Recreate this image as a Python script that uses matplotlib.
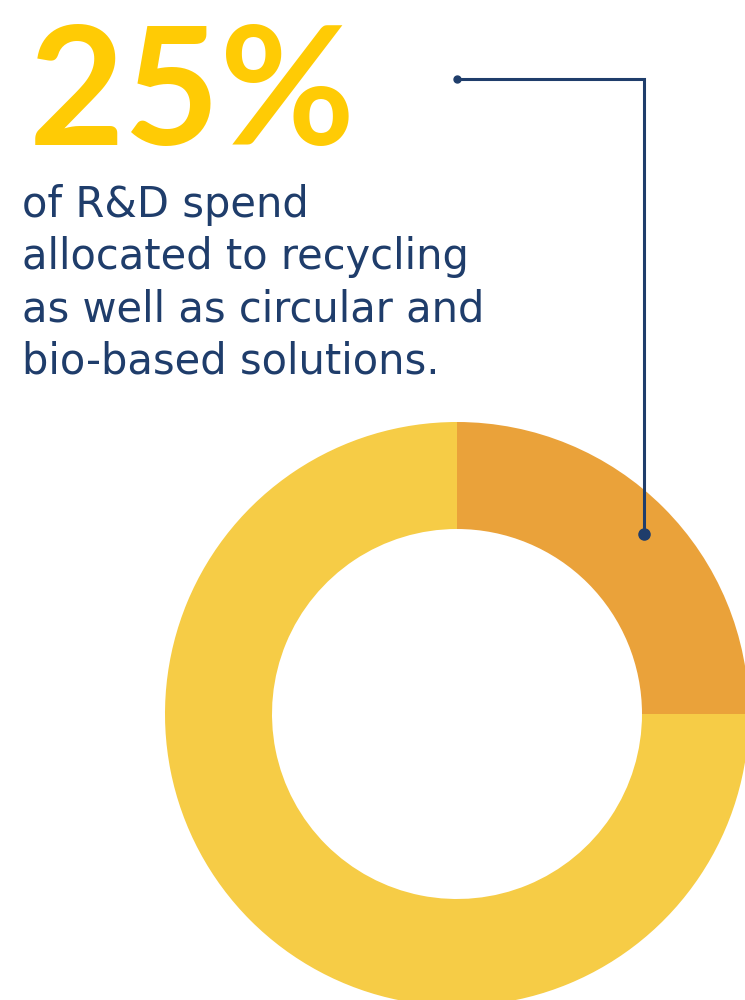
import matplotlib.pyplot as plt
from matplotlib.patches import Wedge

# share of R&D spend (percent)
labels = ["Recycling, circular & bio-based", "Other R&D"]
shares = [25, 75]
headline = "25%"
caption = ["of R&D spend",
           "allocated to recycling",
           "as well as circular and",
           "bio-based solutions."]

NAVY = "#1F3D6B"
GOLD = "#FFCB05"
colors = ["#EAA23A", "#F6CC46"]

fig = plt.figure(figsize=(7.45, 10), dpi=100)
ax = fig.add_axes([0, 0, 1, 1])
ax.set_xlim(0, 745)
ax.set_ylim(1000, 0)
ax.set_aspect("equal")
ax.axis("off")

# donut, drawn clockwise from 12 o'clock
cx, cy, r_out, ring = 457, 714, 292, 107
start = 90.0
for share, col in zip(shares, colors):
    sweep = 360.0 * share / sum(shares)
    # y axis is inverted, so positive angles run clockwise on screen
    ax.add_patch(Wedge((cx, cy), r_out, -start, -start + sweep,
                       width=ring, facecolor=col, edgecolor="none"))
    start -= sweep

ax.text(29, 145, headline, color=GOLD, fontsize=119, fontweight="bold",
        family="Lato", ha="left", va="baseline")

for i, line in enumerate(caption):
    ax.text(22, 217 + i * 52, line, color=NAVY, fontsize=30,
            family="DejaVu Sans", ha="left", va="baseline")

# leader line into the orange segment
ax.plot([457, 644, 644], [79, 79, 534], color=NAVY, lw=2.2,
        solid_joinstyle="miter")
ax.plot([457], [79], "o", color=NAVY, ms=5)
ax.plot([644], [534], "o", color=NAVY, ms=8)

fig.savefig("out.png", dpi=100, facecolor="white")
